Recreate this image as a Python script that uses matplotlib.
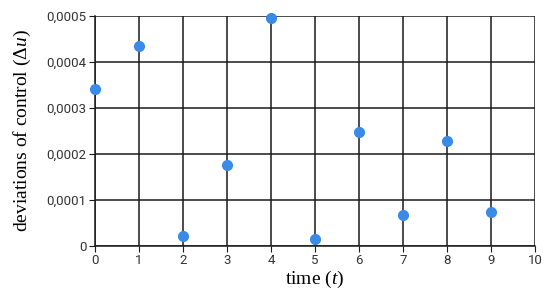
import matplotlib.pyplot as plt
import numpy as np

t = [0, 1, 2, 3, 4, 5, 6, 7, 8, 9]
du = [0.000341, 0.000435, 0.000022, 0.000176, 0.000496,
      0.000016, 0.000247, 0.000068, 0.000228, 0.000074]
yticks = [0, 0.0001, 0.0002, 0.0003, 0.0004, 0.0005]
ytick_labels = ['0', '0,0001', '0,0002', '0,0003', '0,0004', '0,0005']

plt.rcParams['mathtext.fontset'] = 'custom'
plt.rcParams['mathtext.rm'] = 'Liberation Serif'
plt.rcParams['mathtext.it'] = 'Liberation Serif:italic'

fig = plt.figure(figsize=(5.5, 3), dpi=100)
ax = fig.add_axes([0.1727, 0.18, 0.8, 0.7667])

ax.plot(t, du, 'o', color='#3a8ae8', markersize=7, clip_on=False, zorder=3)

ax.set_xlim(0, 10)
ax.set_ylim(0, 0.0005)
ax.set_xticks(range(11))
ax.set_yticks(yticks)
ax.set_yticklabels(ytick_labels)
ax.grid(True, color='#1a1a1a', linewidth=1.1)
for s in ['top', 'right']:
    ax.spines[s].set_visible(False)
for s in ['left', 'bottom']:
    ax.spines[s].set_color('#1a1a1a')
    ax.spines[s].set_linewidth(1.1)
ax.tick_params(direction='out', length=4, color='#1a1a1a', labelsize=9.5,
               labelcolor='#333333', pad=2)
for lab in ax.get_xticklabels() + ax.get_yticklabels():
    lab.set_family('Roboto')

ax.set_xlabel('time ($t$)', family='Liberation Serif', fontsize=14, labelpad=1)
ax.set_ylabel('deviations of control ($\\Delta u$)', family='Liberation Serif',
              fontsize=14, labelpad=10)

fig.savefig('out.png', dpi=100)
